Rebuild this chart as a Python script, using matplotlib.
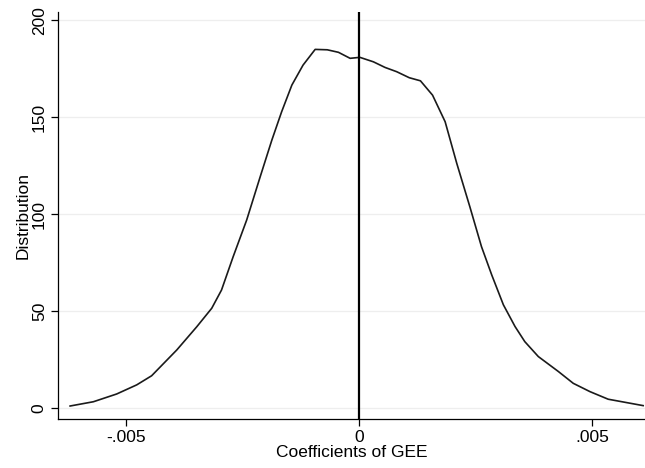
import numpy as np
import matplotlib
matplotlib.use("Agg")
import matplotlib.pyplot as plt

plt.rcParams['font.family'] = ['Liberation Sans', 'DejaVu Sans']

# density curve
coef = [-0.00620, -0.00570, -0.00520, -0.00477, -0.00445, -0.00391, -0.00348,
        -0.00316, -0.00295, -0.00270, -0.00241, -0.00212, -0.00187, -0.00166,
        -0.00144, -0.00120, -0.00094, -0.00068, -0.00044, -0.00019, 0.00002,
        0.00031, 0.00056, 0.00081, 0.00108, 0.00132, 0.00158, 0.00185,
        0.00210, 0.00238, 0.00263, 0.00285, 0.00310, 0.00335, 0.00356,
        0.00385, 0.00428, 0.00460, 0.00496, 0.00535, 0.00610]
dens = [1.0, 3.2, 7.2, 11.9, 16.6, 29.9, 41.9, 51.4, 60.8, 78.0, 96.9, 119.2,
        138.1, 152.7, 166.5, 176.8, 184.9, 184.7, 183.4, 180.3, 180.8, 178.5,
        175.6, 173.4, 170.3, 168.7, 161.3, 147.6, 126.1, 103.8, 83.2, 68.6,
        53.2, 42.0, 34.2, 26.5, 18.8, 12.7, 8.4, 4.5, 1.2]

xticks = [-0.005, 0, 0.005]
xlabels = ['-.005', '0', '.005']
yticks = [0, 50, 100, 150, 200]

fig = plt.figure(figsize=(6.45, 4.68), dpi=100)
ax = fig.add_axes([0.0899, 0.1047, 0.9101, 0.8693])

for y in yticks:
    ax.axhline(y, color='#eeeeee', lw=0.9, zorder=0)
ax.plot(coef, dens, color='#1a1a1a', lw=1.2)
ax.axvline(0, color='black', lw=1.6)

ax.set_xlim(-0.00646, 0.00614)
ax.set_ylim(-5.7, 204.1)
ax.set_xticks(xticks)
ax.set_xticklabels(xlabels)
ax.set_yticks(yticks)
ax.set_yticklabels([str(v) for v in yticks], rotation=90, va='center')
ax.tick_params(labelsize=12.5, length=5, width=0.9, color='black', pad=3)

ax.spines['top'].set_visible(False)
ax.spines['right'].set_visible(False)
ax.spines['left'].set_linewidth(0.9)
ax.spines['bottom'].set_linewidth(0.9)

ax.set_xlabel('Coefficients of GEE', fontsize=12.5, labelpad=0)
ax.set_ylabel('Distribution', fontsize=12.5, labelpad=1)

fig.savefig('out.png', dpi=100)
